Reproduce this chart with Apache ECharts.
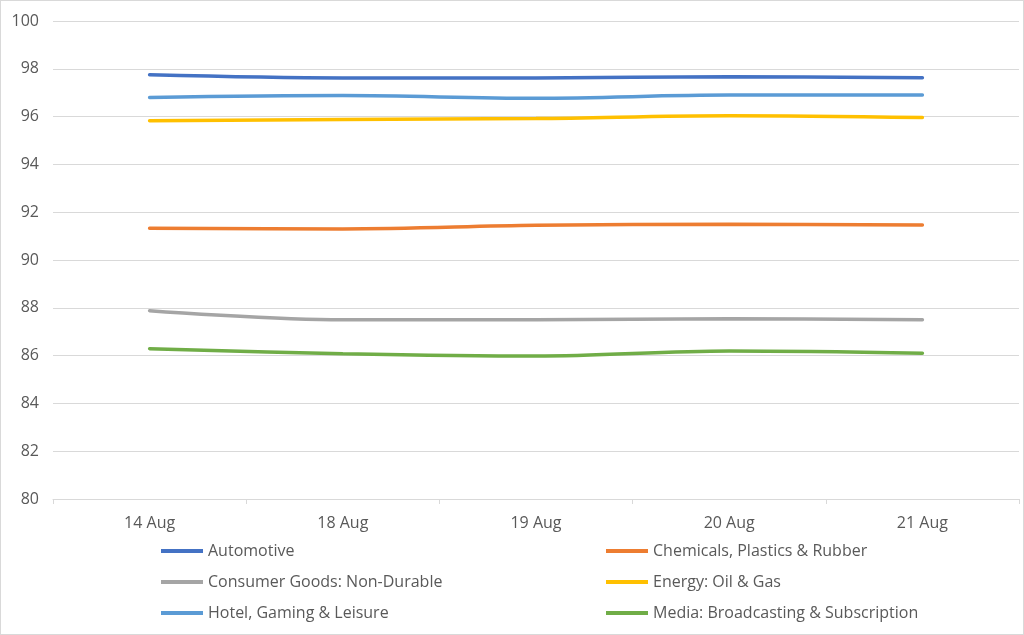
<!DOCTYPE html>
<html><head><meta charset="utf-8">
<script src="https://cdn.jsdelivr.net/npm/echarts@6/dist/echarts.min.js"></script>
<style>
html,body{margin:0;padding:0;background:#fff;}
#c{width:1024px;height:635px;box-sizing:border-box;border:1px solid #d9d9d9;}
</style></head><body>
<div id="c"></div>
<script>
const categories = ['14 Aug','18 Aug','19 Aug','20 Aug','21 Aug'];
const seriesNames = ['Automotive','Chemicals, Plastics & Rubber','Consumer Goods: Non-Durable','Energy: Oil & Gas','Hotel, Gaming & Leisure','Media: Broadcasting & Subscription'];
const automotive = [97.75, 97.62, 97.62, 97.67, 97.63];
const chemicals = [91.33, 91.30, 91.45, 91.50, 91.46];
const consumer = [87.88, 87.50, 87.50, 87.54, 87.50];
const energy = [95.83, 95.88, 95.92, 96.04, 95.96];
const hotel = [96.80, 96.88, 96.77, 96.90, 96.90];
const media = [86.29, 86.08, 85.98, 86.19, 86.10];
const yTicks = {min: 80, max: 100, interval: 2};

const colors = ['#4472C4','#ED7D31','#A5A5A5','#FFC000','#5B9BD5','#70AD47'];
const values = [automotive, chemicals, consumer, energy, hotel, media];

const chart = echarts.init(document.getElementById('c'));
const legendPos = [[160,542],[605,542],[160,573],[605,573],[160,604],[605,604]];
const legends = seriesNames.map((n,i)=>({
  data:[n], left: legendPos[i][0], top: legendPos[i][1], orient:'horizontal',
  icon:'rect', itemWidth:42, itemHeight:4, padding:0,
  selectedMode:false,
  textStyle:{color:'#595959', fontSize:16, fontFamily:'Open Sans'}
}));
chart.setOption({
  animation:false,
  color: colors,
  legend: legends,
  grid:{left:52, right:4, top:20, bottom:135, containLabel:false},
  xAxis:{
    type:'category', data:categories, boundaryGap:true,
    axisLine:{lineStyle:{color:'#d9d9d9', width:1}},
    axisTick:{show:true, length:5, lineStyle:{color:'#d9d9d9'}},
    axisLabel:{color:'#595959', fontSize:16, margin:16, fontFamily:'Open Sans'}
  },
  yAxis:{
    type:'value', min:yTicks.min, max:yTicks.max, interval:yTicks.interval,
    axisLine:{show:false}, axisTick:{show:false},
    splitLine:{lineStyle:{color:'#d9d9d9', width:1}},
    axisLabel:{color:'#595959', fontSize:16, margin:14, fontFamily:'Open Sans'}
  },
  series: seriesNames.map((n,i)=>({
    name:n, type:'line', data:values[i], smooth:0.35, symbol:'none',
    lineStyle:{width:3.5, color:colors[i], cap:'round'},
    itemStyle:{color:colors[i]}
  }))
});
</script>
</body></html>
